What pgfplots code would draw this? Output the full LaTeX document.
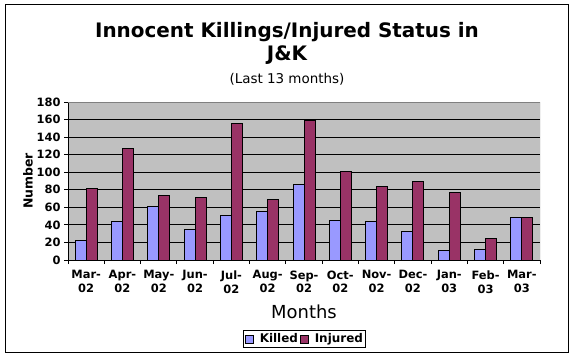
\documentclass[border=0pt]{standalone}
\usepackage{pgfplots}
\pgfplotsset{compat=1.18}
\usepackage{fontspec}
\setmainfont{DejaVu Sans}
\definecolor{killed}{HTML}{9999FF}
\definecolor{injured}{HTML}{993366}
\definecolor{plotbg}{HTML}{C0C0C0}
\begin{document}
\begin{tikzpicture}[x=1bp,y=1bp]
\path[fill=white] (0,0) rectangle (573,358);
\draw[black, line width=1bp] (5,6) rectangle (568,353);
\node[font=\bfseries\fontsize{20}{22}\selectfont] at (287,326) {Innocent Killings/Injured Status in};
\node[font=\bfseries\fontsize{20}{22}\selectfont] at (287,303) {J\&K};
\node[font=\fontsize{13.5}{15}\selectfont] at (287,279) {(Last 13 months)};
\begin{axis}[
  at={(68bp,98bp)}, anchor=south west, scale only axis,
  width=472bp, height=158bp,
  ybar=0pt, bar width=11bp,
  xmin=-0.5, xmax=12.5, ymin=0, ymax=180,
  ytick={0,20,...,180},
  xtick={0,...,12},
  xticklabels={{Mar-\\02},{Apr-\\02},{May-\\02},{Jun-\\02},{Jul-\\02},{Aug-\\02},{Sep-\\02},{Oct-\\02},{Nov-\\02},{Dec-\\02},{Jan-\\03},{Feb-\\03},{Mar-\\03}},
  x tick label style={align=center, font=\bfseries\fontsize{11.5}{14}\selectfont, yshift=-3bp},
  y tick label style={font=\bfseries\fontsize{11.5}{13}\selectfont},
  /pgf/number format/assume math mode=true,
  major x tick style={draw=none},
  minor xtick={-0.5,0.5,...,12.5},
  minor x tick style={black, line width=1bp},
  major y tick style={black, line width=1bp},
  major tick length=4bp, minor tick length=4bp,
  tick align=outside,
  axis x line*=bottom, axis y line*=left,
  axis line style={black, line width=1bp},
  axis background/.style={fill=plotbg},
  ymajorgrids, grid style={black, line width=1bp},
  xlabel={Months},
  xlabel style={at={(axis description cs:0.5,-0.33)}, anchor=center, font=\fontsize{18}{20}\selectfont},
  ylabel={Number},
  ylabel style={at={(axis description cs:-0.085,0.5)}, anchor=center, font=\bfseries\fontsize{12.5}{14}\selectfont},
  legend style={at={(0.502,-0.5)}, anchor=center, legend columns=2, draw=black, line width=1bp,
    font=\bfseries\fontsize{12}{13}\selectfont, inner sep=1bp,
    /tikz/every odd column/.append style={column sep=4bp}},
  legend image code/.code={\draw[#1, line width=0.8bp] (0bp,-4bp) rectangle (8bp,4bp);},
]
\addplot[fill=killed, draw=black, line width=1bp] coordinates {(0,22) (1,44) (2,61) (3,35) (4,51) (5,55) (6,86) (7,45) (8,44) (9,33) (10,11) (11,12) (12,48)};
\addplot[fill=injured, draw=black, line width=1bp] coordinates {(0,82) (1,127) (2,74) (3,71) (4,155) (5,69) (6,159) (7,101) (8,84) (9,90) (10,77) (11,25) (12,48)};
\legend{Killed, Injured}
\draw[gray, line width=1bp] (rel axis cs:0,1) -- (rel axis cs:1,1) -- (rel axis cs:1,0);
\end{axis}
\end{tikzpicture}
\end{document}
